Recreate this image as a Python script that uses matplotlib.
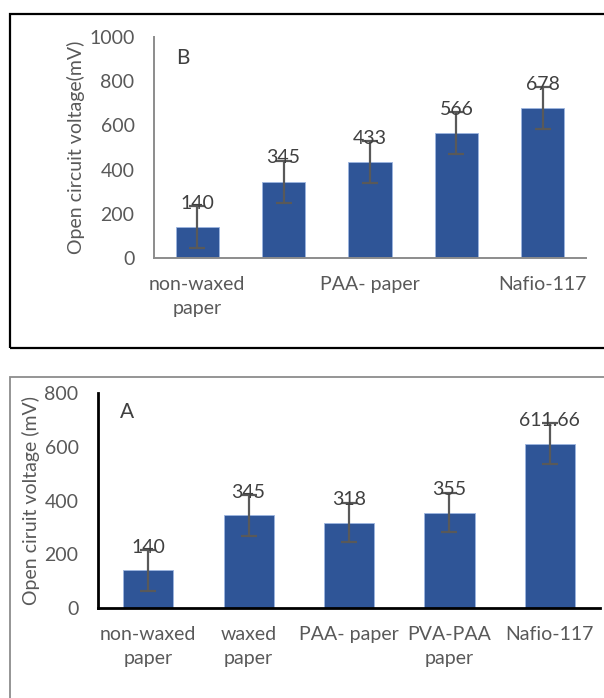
import matplotlib.pyplot as plt
from matplotlib.patches import Rectangle

plt.rcParams['font.family'] = ['Lato', 'DejaVu Sans']

# Panel B data
cats_b = ['non-waxed\npaper', '', 'PAA- paper', '', 'Nafio-117']
vals_b = [140, 345, 433, 566, 678]
err_b = [95, 95, 95, 95, 95]
lbl_b = ['140', '345', '433', '566', '678']

# Panel A data
cats_a = ['non-waxed\npaper', 'waxed\npaper', 'PAA- paper', 'PVA-PAA\npaper', 'Nafio-117']
vals_a = [140, 345, 318, 355, 611.66]
err_a = [76, 76, 74, 74, 75]
lbl_a = ['140', '345', '318', '355', '611.66']

W, H = 604, 698
BAR = '#2F5597'
GREY = '#595959'
FS = 14

fig = plt.figure(figsize=(W / 100, H / 100), dpi=100)


def box(x0, y0, x1, y1):
    # pixel box (top-left origin) -> figure fraction
    return [x0 / W, 1 - y1 / H, (x1 - x0) / W, (y1 - y0) / H]


# outer frames around each panel
fig.patches.append(Rectangle((10 / W, 1 - 348 / H), 700 / W, 334 / H,
                             transform=fig.transFigure, fill=False,
                             edgecolor='black', linewidth=1.6))
fig.patches.append(Rectangle((10 / W, 1 - 760 / H), 700 / W, 383 / H,
                             transform=fig.transFigure, fill=False,
                             edgecolor='#8c8c8c', linewidth=1.3))


def panel(ax, cats, vals, errs, labels, ymax, ystep, spine_col, spine_w, ylabel, tag, tag_xy):
    x = range(len(vals))
    ax.bar(x, vals, width=0.5, color=BAR, edgecolor='#9DB5E0', linewidth=0.6, zorder=2)
    ax.errorbar(x, vals, yerr=errs, fmt='none', ecolor=GREY, elinewidth=1.6,
                capsize=6, capthick=1.6, zorder=3)
    for xi, v, e, t in zip(x, vals, errs, labels):
        ax.annotate(t, (xi, v + e), xytext=(0, 2), textcoords='offset points',
                    ha='center', va='center', fontsize=FS, color='#404040', zorder=4)
    ax.set_xlim(-0.5, len(vals) - 0.5)
    ax.set_ylim(0, ymax)
    ax.set_yticks(range(0, ymax + 1, ystep))
    ax.set_xticks(list(x))
    ax.set_xticklabels(cats, fontsize=FS, color=GREY, linespacing=1.5, va='top')
    ax.tick_params(axis='y', labelsize=FS, labelcolor=GREY, length=0, pad=14)
    ax.tick_params(axis='x', length=0, pad=13)
    for s in ('top', 'right'):
        ax.spines[s].set_visible(False)
    for s in ('left', 'bottom'):
        ax.spines[s].set_color(spine_col)
        ax.spines[s].set_linewidth(spine_w)
    ax.set_ylabel(ylabel, fontsize=FS, color=GREY, labelpad=3)
    ax.text(tag_xy[0], tag_xy[1], tag, transform=ax.transAxes, fontsize=FS + 1,
            color='#404040', ha='center', va='center')


ax_b = fig.add_axes(box(154, 37, 586, 258))
panel(ax_b, cats_b, vals_b, err_b, lbl_b, 1000, 200, '#8c8c8c', 1.4,
      'Open circuit voltage(mV)', 'B', (29 / 432, 1 - 21 / 221))

ax_a = fig.add_axes(box(98, 393, 600, 608))
panel(ax_a, cats_a, vals_a, err_a, lbl_a, 800, 200, 'black', 2.0,
      'Open ciruit voltage (mV)', 'A', (29 / 502, 1 - 19 / 215))

fig.savefig('out.png', dpi=100)
